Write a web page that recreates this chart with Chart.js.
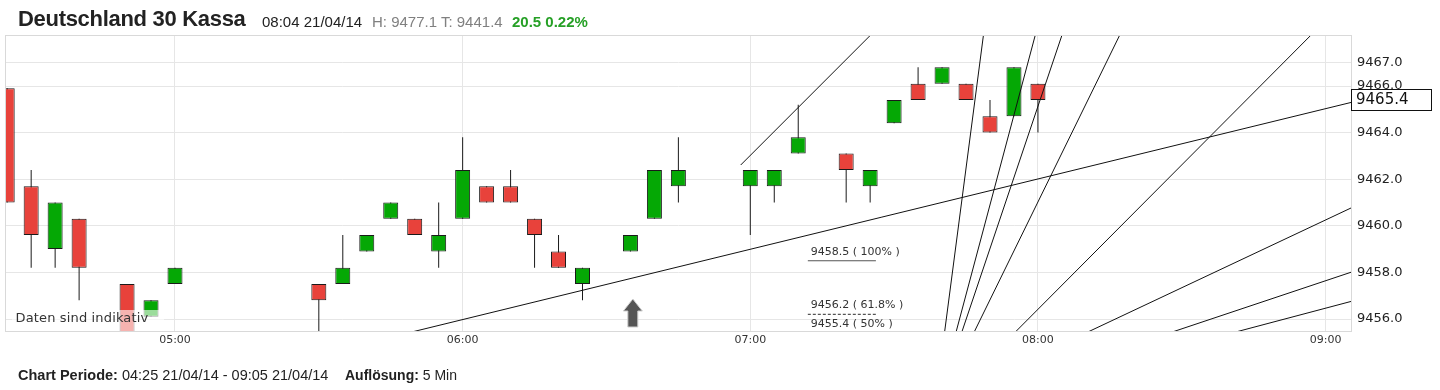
<!DOCTYPE html>
<html>
<head>
<meta charset="utf-8">
<script src="https://cdn.jsdelivr.net/npm/chart.js@4"></script>
<style>
body { margin: 0; background: #fff; }
#wrap { position: relative; width: 1440px; height: 390px; overflow: hidden; font-family: 'Liberation Sans', Arial, sans-serif; }
#myChart { position: absolute; left: 0; top: 0; }
.t { position: absolute; white-space: nowrap; line-height: 1; }
</style>
</head>
<body>
<div id="wrap">
  <canvas id="myChart" width="1440" height="390"></canvas>
  <div class="t" style="left:18px;top:8px;font-size:22px;font-weight:bold;color:#222;letter-spacing:-0.3px">Deutschland 30 Kassa</div>
  <div class="t" style="left:262px;top:14px;font-size:15px;color:#222">08:04 21/04/14</div>
  <div class="t" style="left:372px;top:14px;font-size:15px;color:#808080">H: 9477.1 T: 9441.4</div>
  <div class="t" style="left:512px;top:14px;font-size:15px;font-weight:bold;color:#26a026">20.5 0.22%</div>
  <div class="t" style="left:18px;top:368px;font-size:14.5px;color:#222"><b>Chart Periode:</b> 04:25 21/04/14 - 09:05 21/04/14</div>
  <div class="t" style="left:345px;top:368px;font-size:14px;color:#222"><b>Auflösung:</b> 5 Min</div>
</div>
<script>
// candles: slot number counted in 5 min steps from 04:25
const candleIdx = [0, 1, 2, 3, 5, 6, 7, 13, 14, 15, 16, 17, 18, 19, 20, 21, 22, 23, 24, 26, 27, 28, 31, 32, 33, 35, 36, 37, 38, 39, 40, 41, 42, 43];
const opens  = [9465.9, 9461.7, 9459.0, 9460.3, 9457.5, 9456.1, 9457.5, 9457.5, 9457.5, 9458.9, 9460.3, 9460.3, 9458.9, 9460.3, 9461.7, 9461.7, 9460.3, 9458.9, 9457.5, 9458.9, 9460.3, 9461.7, 9461.7, 9461.7, 9463.1, 9463.1, 9461.7, 9464.4, 9466.1, 9466.1, 9466.1, 9464.7, 9464.7, 9466.1];
const highs  = [9465.9, 9462.4, 9461.0, 9460.3, 9457.5, 9456.8, 9458.2, 9457.5, 9459.6, 9459.6, 9461.0, 9460.3, 9461.0, 9463.8, 9461.7, 9462.4, 9460.3, 9459.6, 9458.2, 9459.6, 9462.4, 9463.8, 9462.4, 9462.4, 9465.2, 9463.1, 9462.4, 9465.4, 9466.8, 9466.8, 9466.1, 9465.4, 9466.8, 9466.1];
const lows   = [9461.0, 9458.2, 9458.2, 9456.8, 9455.0, 9456.1, 9457.5, 9455.0, 9457.5, 9458.9, 9460.3, 9459.6, 9458.2, 9460.3, 9461.0, 9461.0, 9458.2, 9458.2, 9456.8, 9458.9, 9460.3, 9461.0, 9459.6, 9461.0, 9463.1, 9461.0, 9461.0, 9464.4, 9465.4, 9466.1, 9465.4, 9464.0, 9464.7, 9464.0];
const closes = [9461.0, 9459.6, 9461.0, 9458.2, 9455.0, 9456.8, 9458.2, 9456.8, 9458.2, 9459.6, 9461.0, 9459.6, 9459.6, 9462.4, 9461.0, 9461.0, 9459.6, 9458.2, 9458.2, 9459.6, 9462.4, 9462.4, 9462.4, 9462.4, 9463.8, 9462.4, 9462.4, 9465.4, 9465.4, 9466.8, 9465.4, 9464.0, 9466.8, 9465.4];

// axis ticks
const xTickIdx = [7, 19, 31, 43, 55];
const xTickLabels = ['05:00', '06:00', '07:00', '08:00', '09:00'];
const yTicks = [9456, 9458, 9460, 9462, 9464, 9466, 9467];

// trend lines (slot, price) -> (slot, price)
const trendX1 = [15.12, 30.60, 39.05, 39.47, 39.68, 40.13, 41.63, 44.17, 47.32, 49.63];
const trendY1 = [9455.0, 9462.61, 9455.0, 9455.0, 9455.0, 9455.0, 9455.0, 9455.0, 9455.0, 9455.0];
const trendX2 = [57.0, 36.81, 40.83, 43.10, 44.27, 46.80, 55.18, 57.0, 57.0, 57.0];
const trendY2 = [9465.53, 9469.0, 9469.0, 9469.0, 9469.0, 9469.0, 9469.0, 9461.22, 9458.33, 9457.01];

// fibonacci levels
const fibLevels = [9458.5, 9456.2, 9455.4];
const fibNames = ['100%', '61.8%', '50%'];
const fibStart = 33.4;
const fibEnd = 36.24;

const lastPrice = 9465.4;
const arrowIdx = 26.1;

Chart.defaults.font.family = '"DejaVu Sans", Verdana, sans-serif';

const bodyData = candleIdx.map((t, i) => ({ x: t, y: [opens[i], closes[i]] }));
const wickData = candleIdx.map((t, i) => ({ x: t, y: [lows[i], highs[i]] }));
const bodyColors = candleIdx.map((t, i) => closes[i] >= opens[i] ? '#05a805' : '#e8423b');

const datasets = [
    {
        type: 'bar',
        data: bodyData,
        backgroundColor: bodyColors,
        borderColor: '#1a1a1a',
        borderWidth: 1,
        borderSkipped: false,
        barThickness: 15,
        grouped: false,
        inflateAmount: 0,
        clip: 0,
        order: 1,
    },
    {
        type: 'bar',
        data: wickData,
        backgroundColor: '#1a1a1a',
        borderWidth: 0,
        barThickness: 1,
        grouped: false,
        inflateAmount: 0,
        clip: 0,
        order: 2,
    },
];

trendX1.forEach((x1, i) => {
    datasets.push({
        type: 'line',
        data: [{ x: x1, y: trendY1[i] }, { x: trendX2[i], y: trendY2[i] }],
        borderColor: '#111',
        borderWidth: 1,
        pointRadius: 0,
        fill: false,
        order: 0,
    });
});

fibLevels.forEach((lv, i) => {
    datasets.push({
        type: 'line',
        data: [{ x: fibStart, y: lv }, { x: fibEnd, y: lv }],
        borderColor: '#555',
        borderWidth: 1.2,
        borderDash: i === 0 ? [] : [3, 2],
        pointRadius: 0,
        fill: false,
        order: 0,
    });
});

// frame, labels, arrow and price box
const extras = {
    id: 'extras',
    afterDatasetsDraw(chart) {
        const { ctx, chartArea: a, scales: { x, y } } = chart;
        ctx.save();

        ctx.strokeStyle = '#d9d9d9';
        ctx.lineWidth = 1;
        ctx.strokeRect(a.left - 0.5, a.top - 0.5, a.right - a.left + 1, a.bottom - a.top + 1);

        ctx.font = '11px "DejaVu Sans"';
        ctx.fillStyle = '#333';
        ctx.textAlign = 'left';
        ctx.textBaseline = 'middle';
        fibLevels.forEach((lv, i) => {
            ctx.fillText(lv.toFixed(1) + ' ( ' + fibNames[i] + ' )', x.getPixelForValue(fibStart) + 3, y.getPixelForValue(lv) - 9);
        });

        // arrow
        const ax = x.getPixelForValue(arrowIdx);
        const ab = a.bottom - 4;
        ctx.beginPath();
        ctx.moveTo(ax, ab - 28);
        ctx.lineTo(ax + 9.5, ab - 16);
        ctx.lineTo(ax + 5, ab - 16);
        ctx.lineTo(ax + 5, ab);
        ctx.lineTo(ax - 5, ab);
        ctx.lineTo(ax - 5, ab - 16);
        ctx.lineTo(ax - 9.5, ab - 16);
        ctx.closePath();
        ctx.fillStyle = '#555';
        ctx.fill();
        ctx.strokeStyle = '#cfcfcf';
        ctx.stroke();

        // note
        ctx.fillStyle = 'rgba(255,255,255,0.6)';
        ctx.fillRect(a.left + 6, a.bottom - 21, 152, 21);
        ctx.fillStyle = '#333';
        ctx.font = '13px "DejaVu Sans"';
        ctx.letterSpacing = '0.15px';
        ctx.fillText('Daten sind indikativ', a.left + 9.5, a.bottom - 12.5);
        ctx.letterSpacing = '0px';

        // current price
        const py = Math.round(y.getPixelForValue(lastPrice) - 10.5);
        ctx.fillStyle = '#fff';
        ctx.fillRect(a.right, py, 80, 21);
        ctx.strokeStyle = '#111';
        ctx.strokeRect(a.right + 0.5, py + 0.5, 80, 21);
        ctx.fillStyle = '#111';
        ctx.font = '15px "DejaVu Sans"';
        ctx.fillText(lastPrice.toFixed(1), a.right + 5, py + 11.5);

        ctx.restore();
    },
};

const ctx = document.getElementById('myChart').getContext('2d');

const myChart = new Chart(ctx, {
    type: 'bar',
    data: { datasets: datasets },
    options: {
        responsive: false,
        animation: false,
        events: [],
        layout: { padding: { left: 6, top: 36, right: 0, bottom: 0 } },
        plugins: { legend: { display: false }, tooltip: { enabled: false } },
        scales: {
            x: {
                type: 'linear',
                min: -0.05,
                max: 56.06,
                offset: false,
                afterBuildTicks: s => { s.ticks = xTickIdx.map(v => ({ value: v })); },
                afterFit: s => { s.height = 59; },
                ticks: {
                    autoSkip: false,
                    maxRotation: 0,
                    padding: 3,
                    color: '#333',
                    font: { size: 11 },
                    callback: v => xTickLabels[xTickIdx.indexOf(v)],
                },
                grid: { color: '#e6e6e6', drawTicks: false, offset: false },
                border: { display: false },
            },
            y: {
                position: 'right',
                min: 9455.485,
                max: 9468.146,
                afterBuildTicks: s => { s.ticks = yTicks.map(v => ({ value: v })); },
                afterFit: s => { s.width = 89; },
                ticks: {
                    autoSkip: false,
                    padding: 6,
                    color: '#222',
                    font: { size: 13 },
                    callback: v => v.toFixed(1),
                },
                grid: { color: '#e6e6e6', drawTicks: false },
                border: { display: false },
            },
        },
    },
    plugins: [extras],
});
</script>
</body>
</html>
